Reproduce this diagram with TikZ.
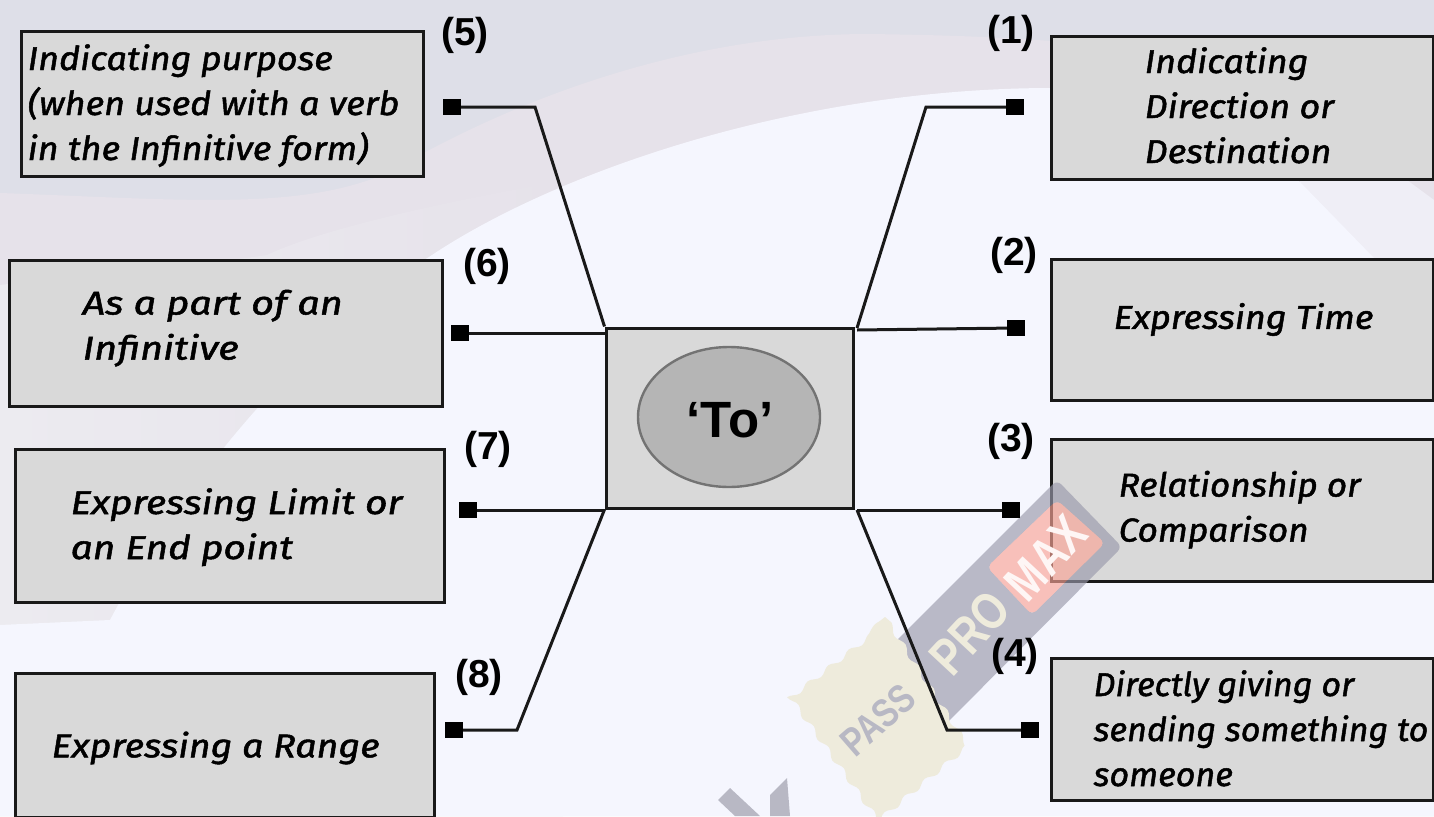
\documentclass[tikz,border=0pt]{standalone}
\usepackage{fontspec}
\setmainfont{Liberation Sans}
\newfontfamily\handfont[FakeStretch=1.09,FakeBold=1.5]{Fira Sans}
\usetikzlibrary{positioning,shapes.geometric,decorations.pathmorphing}
\definecolor{bgtop}{HTML}{DEDFE8}
\definecolor{bgband}{HTML}{E6E2EA}
\definecolor{bgpale}{HTML}{ECEBF0}
\definecolor{bgmain}{HTML}{F5F6FE}
\definecolor{boxgrey}{HTML}{D9D9D9}
\definecolor{ovalgrey}{HTML}{B5B5B5}
\definecolor{stripgrey}{HTML}{9999AB}
\definecolor{stripred}{HTML}{FAA496}
\definecolor{stampyellow}{HTML}{EEEBDC}
\tikzset{
  usebox/.style 2 args={draw=black!90,fill=boxgrey,line width=3pt,minimum width=#1,minimum height=#2,inner sep=0pt},
  boxtext/.style={font=\handfont\itshape\fontsize{33}{45}\selectfont,inner sep=0pt,transform shape},
  numlabel/.style={font=\bfseries\fontsize{39}{42}\selectfont,inner sep=0pt},
  endsquare/.style={fill=black,minimum width=18pt,minimum height=16pt,inner sep=0pt},
  marktext/.style={rotate=#1,xscale=.8,transform shape,font=\bfseries\fontsize{52}{54}\selectfont,inner sep=0pt},
  link/.style={draw=black!90,line width=3pt}
}

\begin{document}
\begin{tikzpicture}[x=1pt,y=-1pt]

    \useasboundingbox (0,0) rectangle (1434,816);
    \clip (0,0) rectangle (1434,816);

    % background
    \fill[bgtop] (0,0) rectangle (1434,816);
    \fill[bgband] (0,193) .. controls (200,200) and (330,215) .. (420,155) .. controls (540,90) and (700,34) .. (869,34) .. controls (1000,36) and (1300,40) .. (1434,150) -- (1434,816) -- (0,816) -- cycle;
    \shade[left color=bgpale,right color=bgband] (0,285) .. controls (120,270) and (200,265) .. (267,255) .. controls (330,225) and (480,195) .. (563,181) -- (563,816) -- (0,816) -- cycle;
    \fill[bgmain!60!bgband] (1300,101) -- (1434,200) -- (1434,816) -- (1300,816) -- cycle;
    \fill[bgmain] (0,625) -- (110,620) .. controls (200,450) and (330,320) .. (432,255) .. controls (560,170) and (800,88) .. (1053,88) .. controls (1150,90) and (1230,130) .. (1300,182) -- (1373,257) -- (1434,300) -- (1434,816) -- (0,816) -- cycle;

    % outer boxes
    \node (use5) [usebox={402pt}{144pt}] at (222,104) {};
    \node (use6) [usebox={433pt}{146pt}] at (225.5,333) {};
    \node (use7) [usebox={429pt}{153pt}] at (229.5,525.5) {};
    \node (use8) [usebox={419pt}{144pt}] at (224.5,745) {};
    \node (use1) [usebox={382pt}{142pt}] at (1242,108) {};
    \node (use2) [usebox={382pt}{141pt}] at (1242,329.5) {};
    \node (use3) [usebox={382pt}{142pt}] at (1242,510) {};
    \node (use4) [usebox={382pt}{142pt}] at (1242,729) {};

    % watermark
    \fill[stripgrey,opacity=.65,even odd rule,rounded corners=6pt] (1057,480) -- (1122,547) -- (930,740) -- (870,667) -- cycle (1057,500) -- (987,567) -- (1032,615) -- (1105,543) -- cycle;
    \fill[stripred,opacity=.65,rounded corners=6pt] (1057,500) -- (987,567) -- (1032,615) -- (1105,543) -- cycle;
    \fill[stampyellow,decorate,decoration={snake,amplitude=2.5pt,segment length=26pt}] (885,617) -- (962,737) -- (867,816) -- (782,697) -- cycle;
    \fill[stripgrey!70!white] (730,788) -- (718,800) -- (735,816) -- (760,816) -- cycle (787,778) -- (770,795) -- (770,816) -- (790,816) -- cycle;
    \node (markpass) [marktext=41,text=stripgrey!70!white,font=\bfseries\fontsize{40}{42}\selectfont] at (878,720) {PASS};
    \node (markpro) [marktext=47,text=stampyellow] at (970,633) {PRO};
    \node (markmax) [marktext=47,text=white!90!stripred] at (1046,558) {MAX};

    % centre
    \node (hub) [usebox={247pt}{180pt}] at (729.5,418) {};
    \node (oval) [draw=black!55,fill=ovalgrey,line width=2.4pt,ellipse,minimum width=182pt,minimum height=140pt,inner sep=0pt] at (729,417) {};
    \node (word) [font=\bfseries\fontsize{51}{53}\selectfont,inner sep=0pt] at (730,420) {‘To’};

    \node (text5) [boxtext,right=8pt of use5.west,yshift=-2pt] {\begin{tabular}{@{}l@{}}Indicating purpose\\(when used with a verb\\in the Infinitive form)\end{tabular}};
    \node (text6) [boxtext,xscale=1.1,right=75pt of use6.west,yshift=5pt] {\begin{tabular}{@{}l@{}}As a part of an\\Infinitive\end{tabular}};
    \node (text7) [boxtext,xscale=1.08,right=57pt of use7.west,yshift=-2pt] {\begin{tabular}{@{}l@{}}Expressing Limit or\\an End point\end{tabular}};
    \node (text8) [boxtext,xscale=1.045,right=38pt of use8.west,yshift=-3pt] {Expressing a Range};
    \node (text1) [boxtext,right=95pt of use1.west,yshift=-1pt] {\begin{tabular}{@{}l@{}}Indicating\\Direction or\\Destination\end{tabular}};
    \node (text2) [boxtext,right=64pt of use2.west,yshift=10pt] {Expressing Time};
    \node (text3) [boxtext,xscale=.98,right=69pt of use3.west] {\begin{tabular}{@{}l@{}}Relationship or\\Comparison\end{tabular}};
    \node (text4) [boxtext,xscale=.95,right=44pt of use4.west,yshift=-3pt] {\begin{tabular}{@{}l@{}}Directly giving or\\sending something to\\someone\end{tabular}};

    \node (num5) [numlabel] at (465,35) {(5)};
    \node (num6) [numlabel] at (487,266) {(6)};
    \node (num7) [numlabel] at (488,449) {(7)};
    \node (num8) [numlabel] at (479,677) {(8)};
    \node (num1) [numlabel] at (1011,33) {(1)};
    \node (num2) [numlabel] at (1014,255) {(2)};
    \node (num3) [numlabel] at (1011,441) {(3)};
    \node (num4) [numlabel] at (1015,656) {(4)};

    \node (end5) [endsquare] at (452,107) {};
    \node (end6) [endsquare] at (460,333) {};
    \node (end7) [endsquare] at (468,510) {};
    \node (end8) [endsquare] at (454,730) {};
    \node (end1) [endsquare] at (1015,107) {};
    \node (end2) [endsquare] at (1016,328) {};
    \node (end3) [endsquare] at (1011,510) {};
    \node (end4) [endsquare] at (1030,730) {};

    \coordinate (bend5) at (535,107);
    \coordinate (bend8) at (517,730);
    \coordinate (bend1) at (926,107);
    \coordinate (bend4) at (947,730);
    \coordinate (root1) at (857,328);
    \coordinate (root2) at (857,330);
    \coordinate (root3) at (857,510);

    \draw[link] (end5) -- (bend5) -- (hub.north west);
    \draw[link] (end6) -- (end6-|hub.west);
    \draw[link] (end7) -- (end7-|hub.west);
    \draw[link] (end8) -- (bend8) -- (hub.south west);
    \draw[link] (end1) -- (bend1) -- (root1);
    \draw[link] (end2) -- (root2);
    \draw[link] (end3) -- (root3);
    \draw[link] (end4) -- (bend4) -- (root3);

\end{tikzpicture}
\end{document}
